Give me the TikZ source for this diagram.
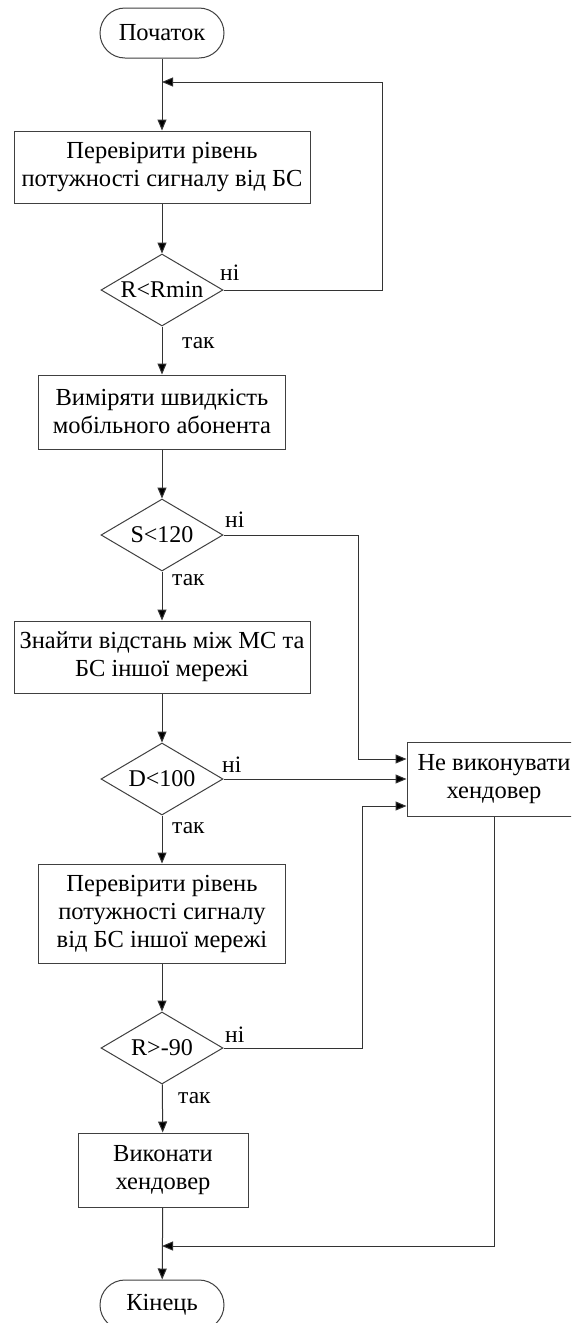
\documentclass[tikz,border=0pt]{standalone}
\usepackage{fontspec}
\setmainfont{Liberation Serif}
\usetikzlibrary{shapes.geometric,arrows.meta}
\begin{document}
\begin{tikzpicture}[x=1pt,y=-1pt,
  line/.style={draw=black!80, line width=1pt},
  arr/.style={line, -{Triangle[length=11pt,width=9pt,fill=black]}},
  proc/.style={draw=black!75, line width=1pt, fill=white, align=center, font=\fontsize{24.5}{28}\selectfont, inner sep=0pt},
  term/.style={proc, rounded corners=25pt, minimum width=124pt, minimum height=50pt},
  dec/.style={diamond, draw=black!75, line width=1pt, fill=white, aspect=1.7, inner sep=0pt, minimum width=122pt, minimum height=72pt, font=\fontsize{24}{28}\selectfont},
  lbl/.style={font=\fontsize{23.5}{26}\selectfont, inner sep=0pt, anchor=base west}]
\useasboundingbox (0,0) rectangle (571,1323);
\clip (0,0) rectangle (571,1323);
\fill[white] (0,0) rectangle (571,1323);

\node[term] (start) at (162,33) {Початок};
\node[proc, minimum width=296pt, minimum height=72pt] (b1) at (162,167) {Перевірити рівень\\потужності сигналу від БС};
\node[dec] (d1) at (162,290) {R<Rmin};
\node[proc, minimum width=247pt, minimum height=74pt] (b2) at (162,412) {Виміряти швидкість\\мобільного абонента};
\node[dec] (d2) at (162,535) {S<120};
\node[proc, minimum width=296pt, minimum height=72pt] (b3) at (162,657) {Знайти відстань між МС та\\БС іншої мережі};
\node[dec] (d3) at (162,779) {D<100};
\node[proc, minimum width=247pt, minimum height=99pt] (b4) at (162,913.5) {Перевірити рівень\\потужності сигналу\\від БС іншої мережі};
\node[dec] (d4) at (162,1048) {R>-90};
\node[proc, minimum width=170pt, minimum height=74pt] (b5) at (163,1170) {Виконати\\хендовер};
\node[term] (end) at (162,1305) {Кінець};
\node[proc, minimum width=174pt, minimum height=74pt] (no) at (494,779) {Не виконувати\\хендовер};

\coordinate (j1) at (162,82);
\coordinate (j2) at (162,1246);

\draw[arr] (start) -- (b1);
\draw[arr] (b1) -- (d1);
\draw[arr] (d1) -- (b2);
\draw[arr] (b2) -- (d2);
\draw[arr] (d2) -- (b3);
\draw[arr] (b3) -- (d3);
\draw[arr] (d3) -- (b4);
\draw[arr] (b4) -- (d4);
\draw[arr] (d4) -- (b5);
\draw[arr] (b5) -- (end);

\draw[arr] (d1.east) -- ++(159,0) |- (j1);
\draw[arr] (d2.east) -- ++(135,0) |- ([yshift=20pt]no.west);
\draw[arr] (d3.east) -- (no.west);
\draw[arr] (d4.east) -- ++(139,0) |- ([yshift=-27pt]no.west);
\draw[arr] (no.south) |- (j2);

\node[lbl] (n1) at (220,280) {ні};
\node[lbl] (t1) at (182,348) {так};
\node[lbl] (n2) at (225,527) {ні};
\node[lbl] (t2) at (172,585) {так};
\node[lbl] (n3) at (222,772) {ні};
\node[lbl] (t3) at (172,833) {так};
\node[lbl] (n4) at (225,1042) {ні};
\node[lbl] (t4) at (178,1103) {так};
\end{tikzpicture}
\end{document}
